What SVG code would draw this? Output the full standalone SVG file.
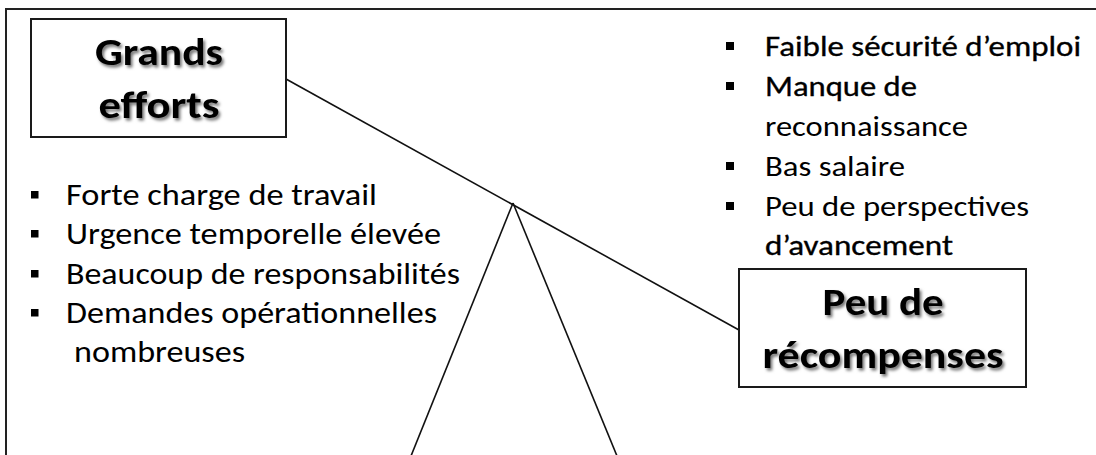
<svg xmlns="http://www.w3.org/2000/svg" width="1096" height="455" viewBox="0 0 1096 455">
<defs>
<filter id="shadow" x="-20%" y="-20%" width="140%" height="160%">
<feDropShadow dx="2" dy="2.5" stdDeviation="1.6" flood-color="#000" flood-opacity="0.55"/>
</filter>
</defs>
<style>
.frame{fill:none;stroke:#222;stroke-width:2}
.box{fill:#fff;stroke:#1a1a1a;stroke-width:2}
.edge{fill:none;stroke:#111;stroke-width:1.6}
.title{font-family:"Carlito","Lato","Open Sans",sans-serif;font-weight:bold;font-size:39px;fill:#000;text-anchor:middle;filter:url(#shadow)}
.li{font-family:"Carlito","Lato","Open Sans",sans-serif;font-size:30.5px;fill:#000}
.ri{font-family:"Carlito","Lato","Open Sans",sans-serif;font-size:29.5px;fill:#000}
.hv{stroke:#000;stroke-width:0.35}
.bul{fill:#000}
</style>
<rect width="1096" height="455" fill="#fff"/>
<path class="frame" d="M6 470 V9 H1110"/>
<g id="connectors">
<line class="edge" x1="286" y1="79" x2="739" y2="330"/>
<line class="edge" x1="513" y1="203" x2="411" y2="456"/>
<line class="edge" x1="513" y1="203" x2="617" y2="456"/>
</g>
<g id="node-grands-efforts">
<rect class="box" x="31" y="19" width="255" height="118"/>
<text class="title" x="159" y="65" textLength="128" lengthAdjust="spacingAndGlyphs">Grands</text>
<text class="title" x="159" y="118" textLength="121" lengthAdjust="spacingAndGlyphs">efforts</text>
</g>
<g id="node-peu-de-recompenses">
<rect class="box" x="739" y="269" width="287" height="118"/>
<text class="title" x="883" y="315" textLength="121" lengthAdjust="spacingAndGlyphs">Peu de</text>
<text class="title" x="883" y="368" textLength="241" lengthAdjust="spacingAndGlyphs">récompenses</text>
</g>
<g id="list-efforts">
<rect class="bul" x="31" y="191" width="7.5" height="7.5"/>
<text class="li" x="66" y="205" textLength="311" lengthAdjust="spacingAndGlyphs">Forte charge de travail</text>
<rect class="bul" x="31" y="230" width="7.5" height="7.5"/>
<text class="li" x="66" y="244" textLength="375" lengthAdjust="spacingAndGlyphs">Urgence temporelle élevée</text>
<rect class="bul" x="31" y="270" width="7.5" height="7.5"/>
<text class="li" x="66" y="284" textLength="394" lengthAdjust="spacingAndGlyphs">Beaucoup de responsabilités</text>
<rect class="bul" x="31" y="309" width="7.5" height="7.5"/>
<text class="li" x="66" y="323" textLength="371" lengthAdjust="spacingAndGlyphs">Demandes opérationnelles</text>
<text class="li" x="74" y="362" textLength="171" lengthAdjust="spacingAndGlyphs">nombreuses</text>
</g>
<g id="list-recompenses">
<rect class="bul" x="726" y="42" width="8" height="8"/>
<text class="ri hv" x="765" y="56" textLength="316" lengthAdjust="spacingAndGlyphs">Faible sécurité d’emploi</text>
<rect class="bul" x="726" y="82" width="8" height="8"/>
<text class="ri hv" x="765" y="96" textLength="152" lengthAdjust="spacingAndGlyphs">Manque de</text>
<text class="ri" x="765" y="136" textLength="203" lengthAdjust="spacingAndGlyphs">reconnaissance</text>
<rect class="bul" x="726" y="162" width="8" height="8"/>
<text class="ri" x="765" y="176" textLength="140" lengthAdjust="spacingAndGlyphs">Bas salaire</text>
<rect class="bul" x="726" y="202" width="8" height="8"/>
<text class="ri" x="765" y="216" textLength="264" lengthAdjust="spacingAndGlyphs">Peu de perspectives</text>
<text class="ri hv" x="765" y="255" textLength="188" lengthAdjust="spacingAndGlyphs">d’avancement</text>
</g>
</svg>
